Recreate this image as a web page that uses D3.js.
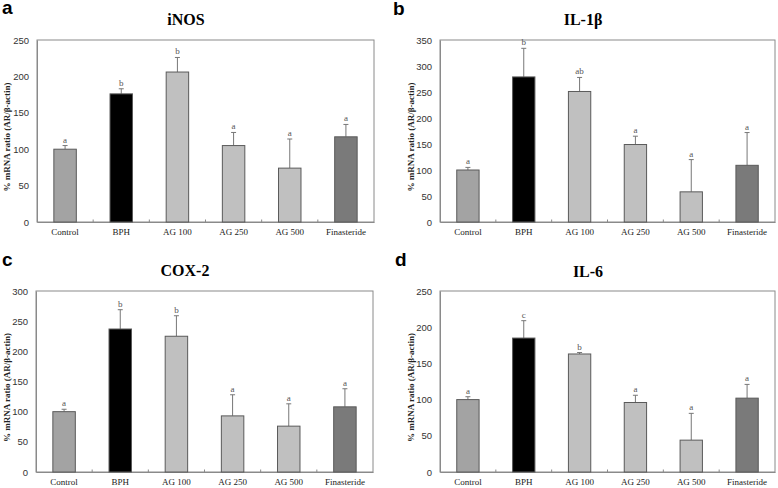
<!DOCTYPE html>
<html>
<head>
<meta charset="utf-8">
<script src="https://cdn.jsdelivr.net/npm/d3@7"></script>
<style>
  html, body { margin: 0; padding: 0; background: #fff; }
  svg { display: block; }
</style>
</head>
<body>
<svg id="chart" width="778" height="488"></svg>
<script>
// ---- data ----
const categories = ["Control", "BPH", "AG 100", "AG 250", "AG 500", "Finasteride"];

const inosMean = [100, 176, 206, 105, 74, 117];
const inosErr  = [5, 7, 20, 18, 40, 17];
const inosSig  = ["a", "b", "b", "a", "a", "a"];

const il1bMean = [100, 279, 251, 149, 58, 109];
const il1bErr  = [5, 55, 27, 16, 62, 63];
const il1bSig  = ["a", "b", "ab", "a", "a", "a"];

const cox2Mean = [100, 237, 225, 93, 76, 108];
const cox2Err  = [4, 32, 34, 35, 37, 30];
const cox2Sig  = ["a", "b", "b", "a", "a", "a"];

const il6Mean  = [100, 185, 163, 96, 44, 102];
const il6Err   = [4, 24, 2, 10, 37, 19];
const il6Sig   = ["a", "c", "b", "a", "a", "a"];

const yMaxes   = [250, 350, 300, 250];
const titles   = ["iNOS", "IL-1β", "COX-2", "IL-6"];
const letters  = ["a", "b", "c", "d"];
const yTitle   = "% mRNA ratio (AR/β-actin)";

const barColors = ["#a3a3a3", "#000000", "#c0c0c0", "#c0c0c0", "#c0c0c0", "#7a7a7a"];

// ---- layout ----
const panels = [
  { mean: inosMean, err: inosErr, sig: inosSig, left: 37,  right: 374, top: 40,  bottom: 222, titleX: 186, titleY: 25,  letterX: 2,   letterY: 14,  yTitleX: 10 },
  { mean: il1bMean, err: il1bErr, sig: il1bSig, left: 440, right: 775, top: 40,  bottom: 222, titleX: 583, titleY: 25,  letterX: 393, letterY: 15,  yTitleX: 414 },
  { mean: cox2Mean, err: cox2Err, sig: cox2Sig, left: 36,  right: 373, top: 291, bottom: 472, titleX: 185, titleY: 276, letterX: 2,   letterY: 266, yTitleX: 10 },
  { mean: il6Mean,  err: il6Err,  sig: il6Sig,  left: 440, right: 775, top: 291, bottom: 472, titleX: 588, titleY: 277, letterX: 395, letterY: 266, yTitleX: 414 }
];

const svg = d3.select("#chart");

panels.forEach((p, pi) => {
  const g = svg.append("g");
  const x = d3.scaleBand().domain(categories).range([p.left, p.right])
    .paddingInner(0.6).paddingOuter(0.3);
  const y = d3.scaleLinear().domain([0, yMaxes[pi]]).range([p.bottom, p.top]);

  // plot frame
  g.append("rect")
    .attr("x", p.left).attr("y", p.top)
    .attr("width", p.right - p.left).attr("height", p.bottom - p.top)
    .attr("fill", "none").attr("stroke", "#8a8a8a").attr("stroke-width", 1);

  // y axis labels
  const yAxis = d3.axisLeft(y).tickValues(d3.range(0, yMaxes[pi] + 1, 50)).tickSize(0).tickPadding(8);
  const ya = g.append("g").attr("transform", `translate(${p.left},0)`).call(yAxis);
  ya.select(".domain").attr("stroke", "#8a8a8a");
  ya.selectAll("text").attr("font-family", "'Liberation Sans', Arial, sans-serif")
    .attr("font-size", 9.5).attr("fill", "#333");

  // x axis labels
  const xAxis = d3.axisBottom(x).tickSize(0).tickPadding(7);
  const xa = g.append("g").attr("transform", `translate(0,${p.bottom})`).call(xAxis);
  xa.select(".domain").attr("stroke", "#8a8a8a");
  xa.selectAll("text").attr("font-family", "'Liberation Serif', 'Times New Roman', serif")
    .attr("font-size", 9).attr("fill", "#222");

  // category boundary ticks
  const gap = (x.step() - x.bandwidth()) / 2;
  g.selectAll(".btick").data(categories.slice(1)).enter().append("line")
    .attr("x1", d => x(d) - gap).attr("x2", d => x(d) - gap)
    .attr("y1", p.bottom).attr("y2", p.bottom - 2.5)
    .attr("stroke", "#8a8a8a").attr("stroke-width", 1);

  const rows = categories.map((c, i) => ({ c, m: p.mean[i], e: p.err[i], s: p.sig[i], col: barColors[i] }));

  // error bars (drawn before bars so the stem starts at bar top)
  g.selectAll(".err").data(rows).enter().append("line")
    .attr("x1", d => x(d.c) + x.bandwidth() / 2).attr("x2", d => x(d.c) + x.bandwidth() / 2)
    .attr("y1", d => y(d.m)).attr("y2", d => y(d.m + d.e))
    .attr("stroke", "#777").attr("stroke-width", 1);
  g.selectAll(".cap").data(rows).enter().append("line")
    .attr("x1", d => x(d.c) + x.bandwidth() / 2 - 2.5).attr("x2", d => x(d.c) + x.bandwidth() / 2 + 2.5)
    .attr("y1", d => y(d.m + d.e)).attr("y2", d => y(d.m + d.e))
    .attr("stroke", "#777").attr("stroke-width", 1);

  // bars
  g.selectAll(".bar").data(rows).enter().append("rect")
    .attr("x", d => x(d.c)).attr("width", x.bandwidth())
    .attr("y", d => y(d.m)).attr("height", d => y(0) - y(d.m))
    .attr("fill", d => d.col).attr("stroke", "#5a5a5a").attr("stroke-width", 1);

  // significance letters
  g.selectAll(".sig").data(rows).enter().append("text")
    .attr("x", d => x(d.c) + x.bandwidth() / 2)
    .attr("y", d => y(d.m + d.e) - 3)
    .attr("text-anchor", "middle")
    .attr("font-family", "'Liberation Serif', 'Times New Roman', serif")
    .attr("font-size", 9).attr("fill", "#555")
    .text(d => d.s);

  // titles
  g.append("text").attr("x", p.titleX).attr("y", p.titleY)
    .attr("text-anchor", "middle")
    .attr("font-family", "'Liberation Serif', 'Times New Roman', serif")
    .attr("font-weight", "bold").attr("font-size", 16).attr("fill", "#000")
    .text(titles[pi]);

  g.append("text").attr("x", p.letterX).attr("y", p.letterY)
    .attr("font-family", "'Liberation Sans', Arial, sans-serif")
    .attr("font-weight", "bold").attr("font-size", 19).attr("fill", "#000")
    .text(letters[pi]);

  g.append("text")
    .attr("transform", `translate(${p.yTitleX},${(p.top + p.bottom) / 2 + 6}) rotate(-90)`)
    .attr("text-anchor", "middle")
    .attr("font-family", "'Liberation Serif', 'Times New Roman', serif")
    .attr("font-weight", "bold").attr("font-size", 9).attr("fill", "#222")
    .text(yTitle);
});
</script>
</body>
</html>
